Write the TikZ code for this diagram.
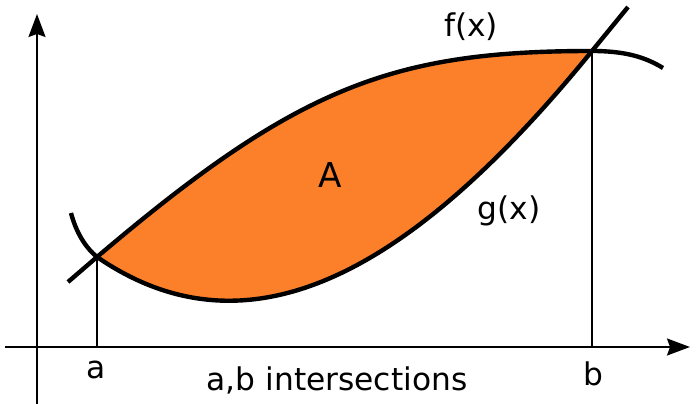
\documentclass[tikz,border=0pt]{standalone}
\usepackage{fontspec}
\setmainfont{DejaVu Sans}
\usetikzlibrary{arrows.meta}
\definecolor{areaorange}{RGB}{252,128,42}
\tikzset{
  >={Stealth[length=4.6mm,width=3.4mm,inset=0.6mm]},
  axis/.style={->,line width=1.1pt},
  curve/.style={line width=2.5pt},
  guide/.style={line width=0.7pt},
  lbl/.style={font=\fontsize{17.8}{20}\selectfont,inner sep=0pt},
}

\begin{document}
\begin{tikzpicture}[x=0.02cm,y=-0.02cm]
  \useasboundingbox (0,0) rectangle (699,404);
  % axes and the two crossing points
  \coordinate (xs) at (5,347); \coordinate (xe) at (690,347);
  \coordinate (ys) at (37,404); \coordinate (ye) at (37,14);
  \coordinate (a) at (97,257); \coordinate (b) at (592,51);
  % area between the curves
  \fill[areaorange] (a) .. controls (297,87) and (392,51) .. (b)
    .. controls (412,272) and (250,362) .. (a) -- cycle;
  \draw[guide] (a) -- (a|-xs);
  \draw[guide] (b) -- (b|-xs);
  \draw[axis] (xs) -- (xe);
  \draw[axis] (ys) -- (ye);
  % f(x)
  \draw[curve] (68,282) -- (a) .. controls (297,87) and (392,51) .. (b)
    .. controls (625,51) and (645,57) .. (663,68);
  % g(x)
  \draw[curve] (71,213) .. controls (76,232) and (85,247) .. (a)
    .. controls (250,362) and (412,272) .. (b) -- (628,7);
  \node[lbl] (flab) at (471,27) {f(x)};
  \node[lbl] (glab) at (509,211) {g(x)};
  \node[lbl,font=\fontsize{19.5}{22}\selectfont] (alab) at (330,175) {A};
  \node[lbl] (atick) at (96,370) {a};
  \node[lbl] (btick) at (593,374) {b};
  \node[lbl] (note) at (337,380) {a,b intersections};
\end{tikzpicture}
\end{document}
